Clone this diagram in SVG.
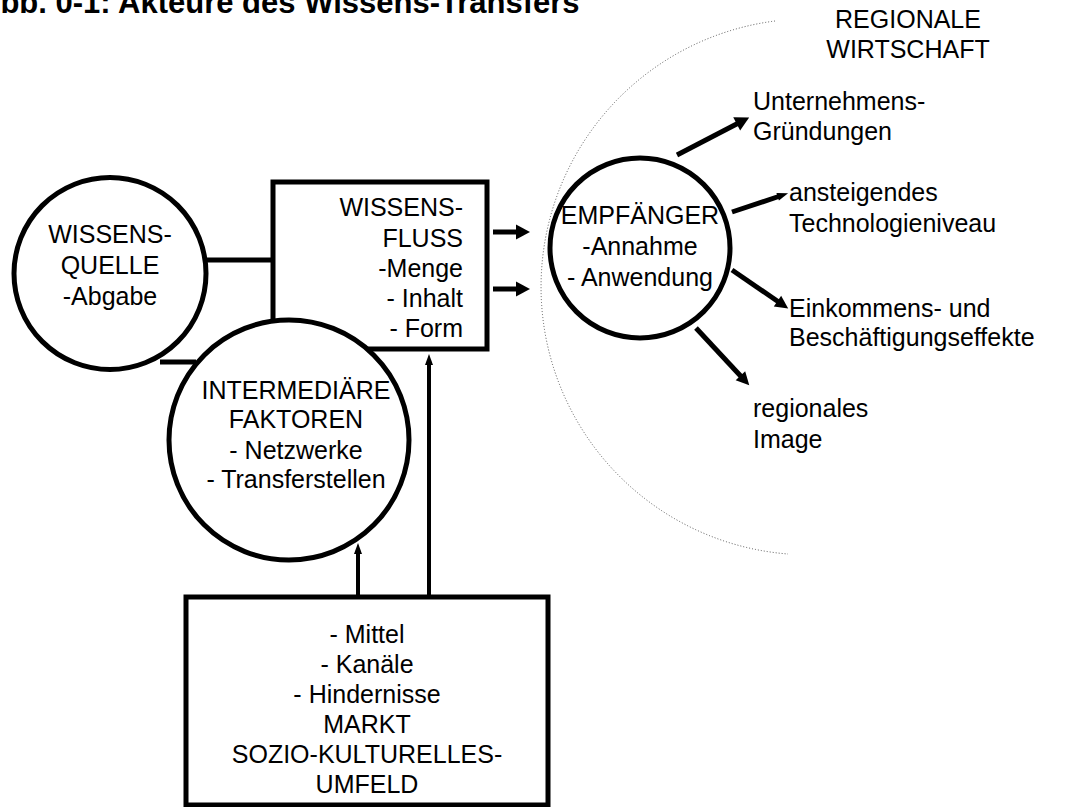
<svg xmlns="http://www.w3.org/2000/svg" width="1069" height="807" viewBox="0 0 1069 807">
  <style>
    text { font-family: "Liberation Sans", Arial, sans-serif; font-size: 25px; fill: #000; }
    .title { font-weight: bold; font-size: 31px; }
    .mid { text-anchor: middle; }
    .end { text-anchor: end; }
    .shape { fill: #fff; stroke: #000; stroke-width: 5; }
    .link { stroke: #000; stroke-width: 5; fill: none; }
    .thin { stroke: #000; stroke-width: 4; fill: none; }
    .region { fill: none; stroke: #555; stroke-width: 1; stroke-dasharray: 1 2; }
  </style>
  <defs>
    <marker id="ah-l" markerUnits="userSpaceOnUse" viewBox="0 -8 14 16" markerWidth="14" markerHeight="16" refX="1" refY="0" orient="auto" overflow="visible">
      <path d="M0,-7.5 L14,0 L0,7.5 Z" fill="#000"/>
    </marker>
    <marker id="ah-m" markerUnits="userSpaceOnUse" viewBox="0 -7 13 14" markerWidth="13" markerHeight="14" refX="1" refY="0" orient="auto" overflow="visible">
      <path d="M0,-6.5 L13,0 L0,6.5 Z" fill="#000"/>
    </marker>
    <marker id="ah-s" markerUnits="userSpaceOnUse" viewBox="0 -4.5 11 9" markerWidth="11" markerHeight="9" refX="1" refY="0" orient="auto" overflow="visible">
      <path d="M0,-4 L11,0 L0,4 Z" fill="#000"/>
    </marker>
  </defs>

  <!-- title (starts left of the page edge) -->
  <text class="title" x="-22" y="13">Abb. 0-1: Akteure des Wissens-Transfers</text>

  <!-- regional economy boundary -->
  <g id="regionale-wirtschaft">
    <path class="region" d="M775,21 A268,268 0 0 0 788,554"/>
    <text class="mid" x="908" y="28">REGIONALE</text>
    <text class="mid" x="908" y="58">WIRTSCHAFT</text>
  </g>

  <!-- connectors -->
  <g id="connectors">
    <line class="link" x1="206" y1="260" x2="273" y2="260"/>
    <line class="link" x1="160" y1="362" x2="196" y2="362"/>
    <line class="link" x1="493" y1="232" x2="517" y2="232" marker-end="url(#ah-l)"/>
    <line class="link" x1="493" y1="289" x2="517" y2="289" marker-end="url(#ah-l)"/>
    <line class="link" x1="677" y1="155" x2="737.6" y2="123.5" marker-end="url(#ah-l)"/>
    <line class="link" x1="732" y1="212" x2="778.6" y2="196.5" marker-end="url(#ah-s)"/>
    <line class="link" x1="732" y1="270" x2="778.3" y2="301.7" marker-end="url(#ah-m)"/>
    <line class="link" x1="696" y1="328" x2="741.1" y2="376.5" marker-end="url(#ah-m)"/>
    <line class="thin" x1="429" y1="597" x2="429" y2="364" marker-end="url(#ah-s)"/>
    <line class="thin" x1="358" y1="597" x2="358" y2="553" marker-end="url(#ah-s)"/>
  </g>

  <!-- knowledge flow box -->
  <g id="wissensfluss">
    <rect class="shape" x="273" y="182" width="214" height="167"/>
    <text class="end" x="463" y="216">WISSENS-</text>
    <text class="end" x="463" y="246.5">FLUSS</text>
    <text class="end" x="463" y="277">-Menge</text>
    <text class="end" x="463" y="307">- Inhalt</text>
    <text class="end" x="463" y="337">- Form</text>
  </g>

  <!-- knowledge source -->
  <g id="wissensquelle">
    <circle class="shape" cx="110" cy="273.5" r="96"/>
    <text class="mid" x="110" y="243">WISSENS-</text>
    <text class="mid" x="110" y="274">QUELLE</text>
    <text class="mid" x="110" y="305">-Abgabe</text>
  </g>

  <!-- intermediary factors -->
  <g id="intermediaere-faktoren">
    <circle class="shape" cx="289" cy="440" r="120"/>
    <text class="mid" x="296" y="399">INTERMEDIÄRE</text>
    <text class="mid" x="296" y="428">FAKTOREN</text>
    <text class="mid" x="296" y="459">- Netzwerke</text>
    <text class="mid" x="296" y="488">- Transferstellen</text>
  </g>

  <!-- recipient -->
  <g id="empfaenger">
    <circle class="shape" cx="640" cy="248" r="90"/>
    <text class="mid" x="640" y="224">EMPFÄNGER</text>
    <text class="mid" x="640" y="255">-Annahme</text>
    <text class="mid" x="640" y="286">- Anwendung</text>
  </g>

  <!-- environment box -->
  <g id="umfeld">
    <rect class="shape" x="186" y="597" width="362" height="208"/>
    <text class="mid" x="367" y="643">- Mittel</text>
    <text class="mid" x="367" y="673">- Kanäle</text>
    <text class="mid" x="367" y="703">- Hindernisse</text>
    <text class="mid" x="367" y="733">MARKT</text>
    <text class="mid" x="367" y="763">SOZIO-KULTURELLES-</text>
    <text class="mid" x="367" y="793">UMFELD</text>
  </g>

  <!-- effects -->
  <g id="gruendungen">
    <text x="753" y="110">Unternehmens-</text>
    <text x="753" y="140">Gründungen</text>
  </g>
  <g id="technologieniveau">
    <text x="789" y="201">ansteigendes</text>
    <text x="789" y="232">Technologieniveau</text>
  </g>
  <g id="effekte">
    <text x="789" y="317">Einkommens- und</text>
    <text x="789" y="346">Beschäftigungseffekte</text>
  </g>
  <g id="image">
    <text x="753" y="417">regionales</text>
    <text x="753" y="448">Image</text>
  </g>
</svg>
